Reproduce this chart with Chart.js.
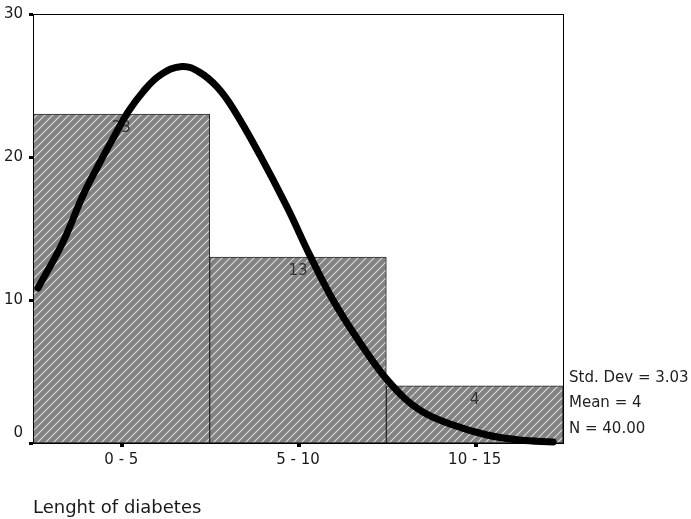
<!DOCTYPE html>
<html>
<head>
<meta charset="utf-8">
<script src="https://cdn.jsdelivr.net/npm/chart.js@4"></script>
<style>
  html, body { margin: 0; padding: 0; background: #fff; }
  #wrap { width: 691px; height: 519px; }
</style>
</head>
<body>
<div id="wrap"><canvas id="c" width="691" height="519"></canvas></div>
<script>
const categories = ['0 - 5', '5 - 10', '10 - 15'];
const frequencies = [23, 13, 4];
const curveX = [0.14, 0.85, 1.42, 1.90, 2.32, 2.69, 3.11, 3.60, 4.22, 4.73, 5.21, 5.66, 6.43, 7.19, 7.84, 8.49, 9.26, 10.10, 10.95, 11.89, 12.85, 13.78, 14.72];
const curveY = [10.84, 14.06, 17.34, 19.65, 21.54, 23.15, 24.55, 25.73, 26.33, 25.9, 24.9, 23.4, 20.1, 16.5, 13.1, 10.0, 7.0, 4.2, 2.3, 1.26, 0.56, 0.21, 0.07];
const yTicks = [0, 10, 20, 30];
const statsLines = ['Std. Dev = 3.03', 'Mean = 4', 'N = 40.00'];
const axisTitle = 'Lenght of diabetes';

const FONT = "'DejaVu Sans', Verdana, sans-serif";

function hatch() {
  const s = 8;
  const p = document.createElement('canvas');
  p.width = s; p.height = s;
  const g = p.getContext('2d');
  g.fillStyle = '#828282';
  g.fillRect(0, 0, s, s);
  g.strokeStyle = '#dcdcdc';
  g.lineWidth = 1.1;
  g.beginPath();
  g.moveTo(-1, s + 1); g.lineTo(s + 1, -1);
  g.moveTo(-1, 1); g.lineTo(1, -1);
  g.moveTo(s - 1, s + 1); g.lineTo(s + 1, s - 1);
  g.stroke();
  return g.createPattern(p, 'repeat');
}

const framePlugin = {
  id: 'frame',
  afterDatasetDraw(chart, args) {
    if (args.meta.type !== 'bar') return;
    const ctx = chart.ctx;
    ctx.save();
    ctx.font = '15px ' + FONT;
    ctx.fillStyle = '#333';
    ctx.textAlign = 'center';
    ctx.textBaseline = 'middle';
    args.meta.data.forEach((el, i) => {
      ctx.fillText(String(frequencies[i]), el.x, el.y + 14);
    });
    ctx.restore();
  },
  afterDraw(chart) {
    const ctx = chart.ctx;
    const a = chart.chartArea;
    const ys = chart.scales.y;
    const xs = chart.scales.x;
    ctx.save();
    ctx.strokeStyle = '#000';
    ctx.lineWidth = 1;
    ctx.strokeRect(Math.round(a.left) + 0.5, Math.round(a.top) + 0.5, Math.round(a.right - a.left), Math.round(a.bottom - a.top));
    ctx.fillStyle = '#000';
    yTicks.forEach(v => {
      const py = Math.round(ys.getPixelForValue(v));
      ctx.fillRect(a.left - 4, py - 1, 4, 3);
    });
    categories.forEach((c, i) => {
      const px = Math.round(xs.getPixelForValue(i));
      ctx.fillRect(px - 1, a.bottom + 1, 4, 3);
    });
    // zero label sits slightly above its tick, as in the original
    ctx.font = '15px ' + FONT;
    ctx.fillStyle = '#1a1a1a';
    ctx.textAlign = 'right';
    ctx.textBaseline = 'middle';
    ctx.fillText('0', a.left - 10, ys.getPixelForValue(0) - 10);
    // statistics box text
    ctx.font = '15px ' + FONT;
    ctx.fillStyle = '#222';
    ctx.textAlign = 'left';
    statsLines.forEach((t, i) => {
      ctx.fillText(t, a.right + 6, 378 + i * 25.5);
    });
    ctx.restore();
  }
};

new Chart(document.getElementById('c'), {
  type: 'line',
  data: {
    labels: categories,
    datasets: [
      {
        type: 'line',
        order: 0,
        data: curveX.map((x, i) => ({ x: x, y: curveY[i] })),
        xAxisID: 'x2',
        yAxisID: 'y',
        borderColor: '#000',
        borderWidth: 7,
        borderCapStyle: 'round',
        borderJoinStyle: 'round',
        pointRadius: 0,
        fill: false,
        tension: 0.4,
        clip: 6
      },
      {
        type: 'bar',
        order: 1,
        data: frequencies,
        xAxisID: 'x',
        yAxisID: 'y',
        backgroundColor: hatch(),
        borderColor: '#2a2a2a',
        borderWidth: 1,
        borderSkipped: false,
        grouped: false,
        barPercentage: 1,
        categoryPercentage: 1
      }
    ]
  },
  options: {
    responsive: false,
    animation: false,
    devicePixelRatio: 1,
    layout: { padding: { left: 0, top: 14, right: 128, bottom: 0 } },
    plugins: { legend: { display: false }, tooltip: { enabled: false }, title: { display: false } },
    scales: {
      x: {
        type: 'category',
        offset: true,
        grid: { display: false, drawTicks: false, offset: true },
        border: { display: false },
        ticks: { color: '#1a1a1a', font: { family: FONT, size: 15 }, padding: 8, maxRotation: 0 },
        title: { display: true, text: axisTitle, align: 'start', color: '#1a1a1a', font: { family: FONT, size: 18 }, padding: { top: 0, bottom: 0 } },
        afterFit(s) { s.height = 76; s.paddingLeft = 0; s.paddingRight = 0; }
      },
      x2: {
        type: 'linear',
        min: 0,
        max: 15,
        offset: false,
        display: false
      },
      y: {
        type: 'linear',
        min: 0,
        max: 30,
        grid: { display: false, drawTicks: false },
        border: { display: false },
        afterBuildTicks(s) { s.ticks = yTicks.map(v => ({ value: v })); },
        ticks: {
          color: (c) => c.tick && c.tick.value === 0 ? 'rgba(0,0,0,0)' : '#1a1a1a',
          font: { family: FONT, size: 15 },
          padding: 10
        },
        afterFit(s) { s.width = 33; s.paddingTop = 0; s.paddingBottom = 0; }
      }
    }
  },
  plugins: [framePlugin]
});
</script>
</body>
</html>
